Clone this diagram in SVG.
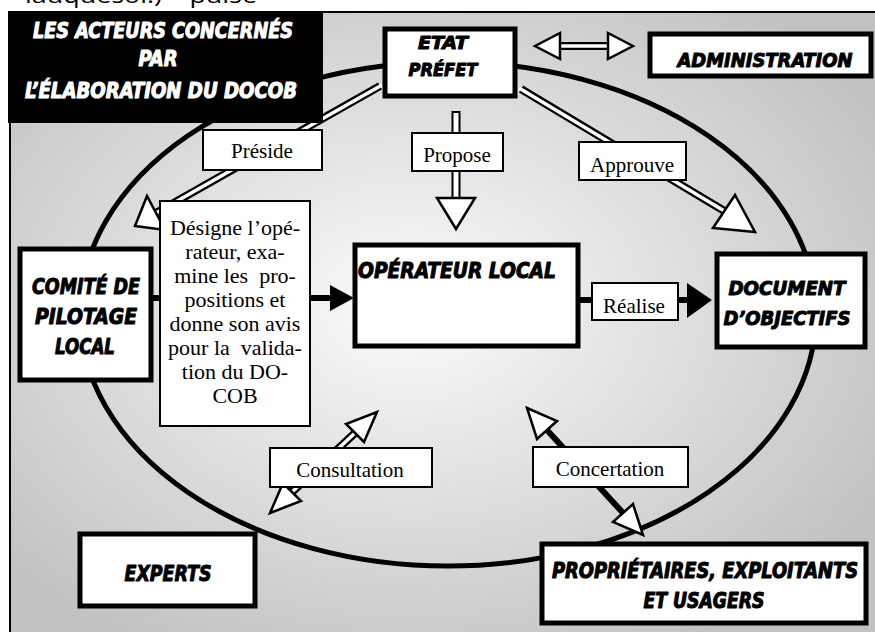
<svg xmlns="http://www.w3.org/2000/svg" width="875" height="632" viewBox="0 0 875 632">
<defs>
<radialGradient id="bg" cx="0.46" cy="0.47" r="0.62">
<stop offset="0" stop-color="#fbfbfb"/>
<stop offset="0.55" stop-color="#dcdcdc"/>
<stop offset="1" stop-color="#c2c2c2"/>
</radialGradient>
</defs>
<style>
.node{fill:#fff;stroke:#000;stroke-width:5}
.lbl{fill:#fff;stroke:#000;stroke-width:2}
.comic{font-family:"DejaVu Sans Condensed","DejaVu Sans",sans-serif;font-weight:bold;font-style:italic;text-anchor:middle;fill:#000;stroke:#000;stroke-width:1;stroke-linejoin:round}
.wt{fill:#fff;stroke:#fff}
.serif{font-family:"Liberation Serif","Times New Roman",serif;font-size:21px;text-anchor:middle;fill:#000}
.head{fill:#fff;stroke:#000;stroke-width:2.5;stroke-linejoin:miter}
.hollowO{fill:none;stroke:#000;stroke-width:8}
.hollowI{fill:none;stroke:#fff;stroke-width:3.5}
.solid{fill:none;stroke:#000;stroke-width:6}
</style>
<rect width="875" height="632" fill="#fff"/>
<text x="25" y="3" font-family="'Open Sans',sans-serif" font-size="22" textLength="232" lengthAdjust="spacingAndGlyphs" fill="#000">lauquesoi.) – pulsé</text>
<rect x="10" y="12" width="870" height="625" fill="url(#bg)" stroke="#000" stroke-width="2"/>
<ellipse cx="448" cy="314" rx="368" ry="252" fill="none" stroke="#000" stroke-width="5"/>

<g id="connectors">
<!-- ETAT <-> ADMINISTRATION -->
<path class="hollowO" d="M557 46 H611"/>
<path class="hollowI" d="M556 46 H612"/>
<polygon class="head" points="535,46 560,33 560,59"/>
<polygon class="head" points="633,46 608,33 608,59"/>
<!-- Préside -->
<path class="hollowO" d="M380 86 L156 213"/>
<path class="hollowI" d="M382 85 L156 213"/>
<polygon class="head" points="135,226 147,196 165,230"/>
<rect class="lbl" x="203" y="130" width="119" height="40"/>
<text class="serif" x="262" y="158">Préside</text>
<!-- Propose -->
<rect x="452.5" y="112" width="7" height="88" fill="#fff" stroke="#000" stroke-width="2"/>
<polygon class="head" points="437,198 475,198 456,229"/>
<rect class="lbl" x="412" y="133" width="91" height="38"/>
<text class="serif" x="457" y="162">Propose</text>
<!-- Approuve -->
<path class="hollowO" d="M521 89 L726 212"/>
<path class="hollowI" d="M519 88 L726 212"/>
<polygon class="head" points="755,232 735,195 713,228"/>
<rect class="lbl" x="579" y="142" width="107" height="38"/>
<text class="serif" x="632" y="172">Approuve</text>
<!-- Comité -> Opérateur (Désigne) -->
<path class="solid" d="M150 298 H164"/>
<path class="solid" d="M306 298 H333"/>
<polygon points="330,285 330,311 354,298" fill="#000"/>
<rect class="lbl" x="160" y="201" width="150" height="225"/>
<g class="serif" style="font-size:22px">
<text x="235" y="235">Désigne l’opé-</text>
<text x="235" y="259">rateur, exa-</text>
<text x="235" y="283">mine les&#160; pro-</text>
<text x="235" y="307">positions et</text>
<text x="235" y="331">donne son avis</text>
<text x="235" y="355">pour la&#160; valida-</text>
<text x="235" y="379">tion du DO-</text>
<text x="235" y="403">COB</text>
</g>
<!-- Réalise -->
<path class="solid" d="M576 300 H596"/>
<path class="solid" d="M674 300 H690"/>
<polygon points="687,283 687,318 712,300" fill="#000"/>
<rect class="lbl" x="592" y="283" width="86" height="37"/>
<text class="serif" x="634" y="313">Réalise</text>
<!-- Consultation -->
<path class="hollowO" d="M356 432 L291 493"/>
<path class="hollowI" d="M356 432 L291 493"/>
<polygon class="head" points="377,412 364,442 346,424"/>
<polygon class="head" points="270,513 301,501 283,483"/>
<rect class="lbl" x="270" y="448" width="162" height="39"/>
<text class="serif" x="350" y="477">Consultation</text>
<!-- Concertation -->
<path class="solid" d="M546 429 L624 514"/>
<polygon class="head" points="527,408 557,421 537,439"/>
<polygon class="head" points="643,535 633,504 613,522"/>
<rect class="lbl" x="533" y="447" width="155" height="40"/>
<text class="serif" x="610" y="476">Concertation</text>
</g>

<g id="title">
<rect x="8" y="11" width="315" height="112" fill="#000"/>
<text class="comic wt" x="163" y="38" font-size="21" textLength="260" lengthAdjust="spacingAndGlyphs">LES ACTEURS CONCERNÉS</text>
<text class="comic wt" x="158" y="66" font-size="21" textLength="39" lengthAdjust="spacingAndGlyphs">PAR</text>
<text class="comic wt" x="161" y="98" font-size="21" textLength="272" lengthAdjust="spacingAndGlyphs">L’ÉLABORATION DU DOCOB</text>
</g>

<g id="etat">
<rect class="node" x="385" y="29" width="130" height="67"/>
<text class="comic" x="443" y="49" font-size="18" textLength="50" lengthAdjust="spacingAndGlyphs">ETAT</text>
<text class="comic" x="443" y="76" font-size="18" textLength="69" lengthAdjust="spacingAndGlyphs">PRÉFET</text>
</g>
<g id="administration">
<rect class="node" x="650" y="34" width="221" height="42"/>
<text class="comic" x="765" y="67" font-size="20" textLength="175" lengthAdjust="spacingAndGlyphs">ADMINISTRATION</text>
</g>
<g id="comite">
<rect class="node" x="20" y="249" width="131" height="131"/>
<text class="comic" x="86" y="294" font-size="22" textLength="108" lengthAdjust="spacingAndGlyphs">COMITÉ DE</text>
<text class="comic" x="86" y="324" font-size="22" textLength="102" lengthAdjust="spacingAndGlyphs">PILOTAGE</text>
<text class="comic" x="85" y="354" font-size="22" textLength="60" lengthAdjust="spacingAndGlyphs">LOCAL</text>
</g>
<g id="operateur">
<rect class="node" x="355" y="245" width="223" height="101"/>
<text class="comic" x="457" y="278" font-size="22" textLength="198" lengthAdjust="spacingAndGlyphs">OPÉRATEUR LOCAL</text>
</g>
<g id="document">
<rect class="node" x="717" y="254" width="148" height="93"/>
<text class="comic" x="787" y="295" font-size="20" textLength="117" lengthAdjust="spacingAndGlyphs">DOCUMENT</text>
<text class="comic" x="787" y="325" font-size="20" textLength="127" lengthAdjust="spacingAndGlyphs">D’OBJECTIFS</text>
</g>
<g id="experts">
<rect class="node" x="80" y="534" width="175" height="72"/>
<text class="comic" x="168" y="581" font-size="22" textLength="87" lengthAdjust="spacingAndGlyphs">EXPERTS</text>
</g>
<g id="proprietaires">
<rect class="node" x="542" y="544" width="324" height="79"/>
<text class="comic" x="705" y="578" font-size="21" textLength="306" lengthAdjust="spacingAndGlyphs">PROPRIÉTAIRES, EXPLOITANTS</text>
<text class="comic" x="704" y="608" font-size="21" textLength="121" lengthAdjust="spacingAndGlyphs">ET USAGERS</text>
</g>
</svg>
